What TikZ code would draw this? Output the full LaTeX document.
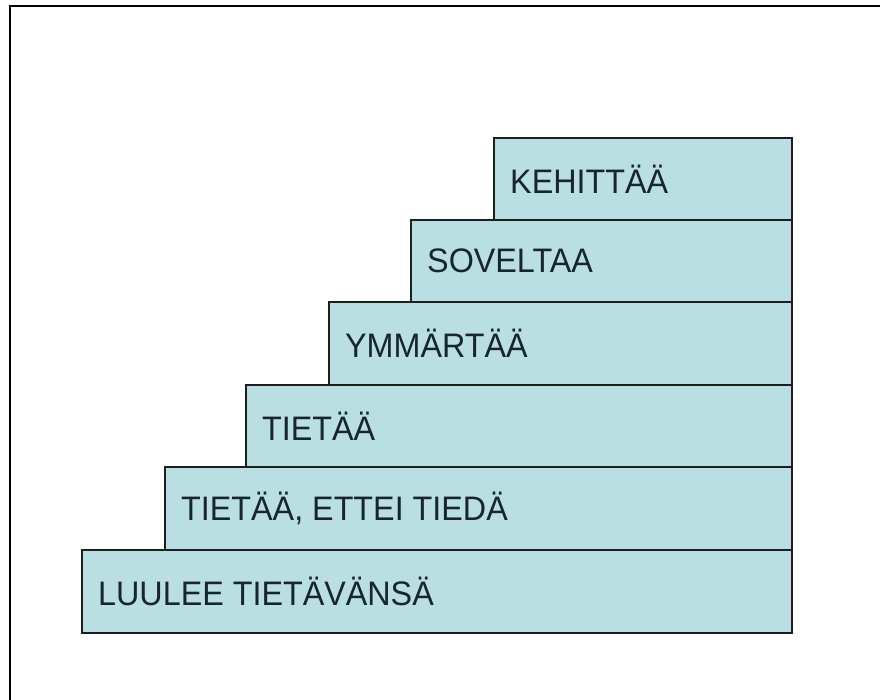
\documentclass[tikz,border=0pt]{standalone}
\usepackage{fontspec}
\setmainfont{Liberation Sans}
\definecolor{stepfill}{HTML}{BADFE3}
\definecolor{steptext}{HTML}{17262D}
\definecolor{steplinec}{HTML}{1E1E1E}
\tikzset{
  stepbox/.style={draw=steplinec, line width=2pt, fill=stepfill},
  steplabel/.style={anchor=west, inner sep=0pt, text=steptext,
    font=\fontsize{34}{38}\selectfont},
}
\newcommand{\stl}[1]{\scalebox{0.95}[1]{#1}}
\begin{document}
\begin{tikzpicture}[x=1pt,y=-1pt]
\useasboundingbox[fill=white] (0,0) rectangle (880,700);
\draw[line width=2pt] (10,700) -- (10,5.8) -- (880,5.8);
% boxes bottom to top
\path[stepbox] (82,550) rectangle (792,633);
\path[stepbox] (165,467) rectangle (792,550);
\path[stepbox] (246,385) rectangle (792,467);
\path[stepbox] (329,302) rectangle (792,385);
\path[stepbox] (411,220) rectangle (792,302);
\path[stepbox] (494,138) rectangle (792,220);
\node[steplabel] (l6) at (98,591) {\stl{LUULEE TIETÄVÄNSÄ}};
\node[steplabel] (l5) at (181,508) {\stl{TIETÄÄ, ETTEI TIEDÄ}};
\node[steplabel] (l4) at (262,426) {\stl{TIETÄÄ}};
\node[steplabel] (l3) at (345,343) {\stl{YMMÄRTÄÄ}};
\node[steplabel] (l2) at (427,261) {\stl{SOVELTAA}};
\node[steplabel] (l1) at (510,179) {\stl{KEHITTÄÄ}};
\end{tikzpicture}
\end{document}
